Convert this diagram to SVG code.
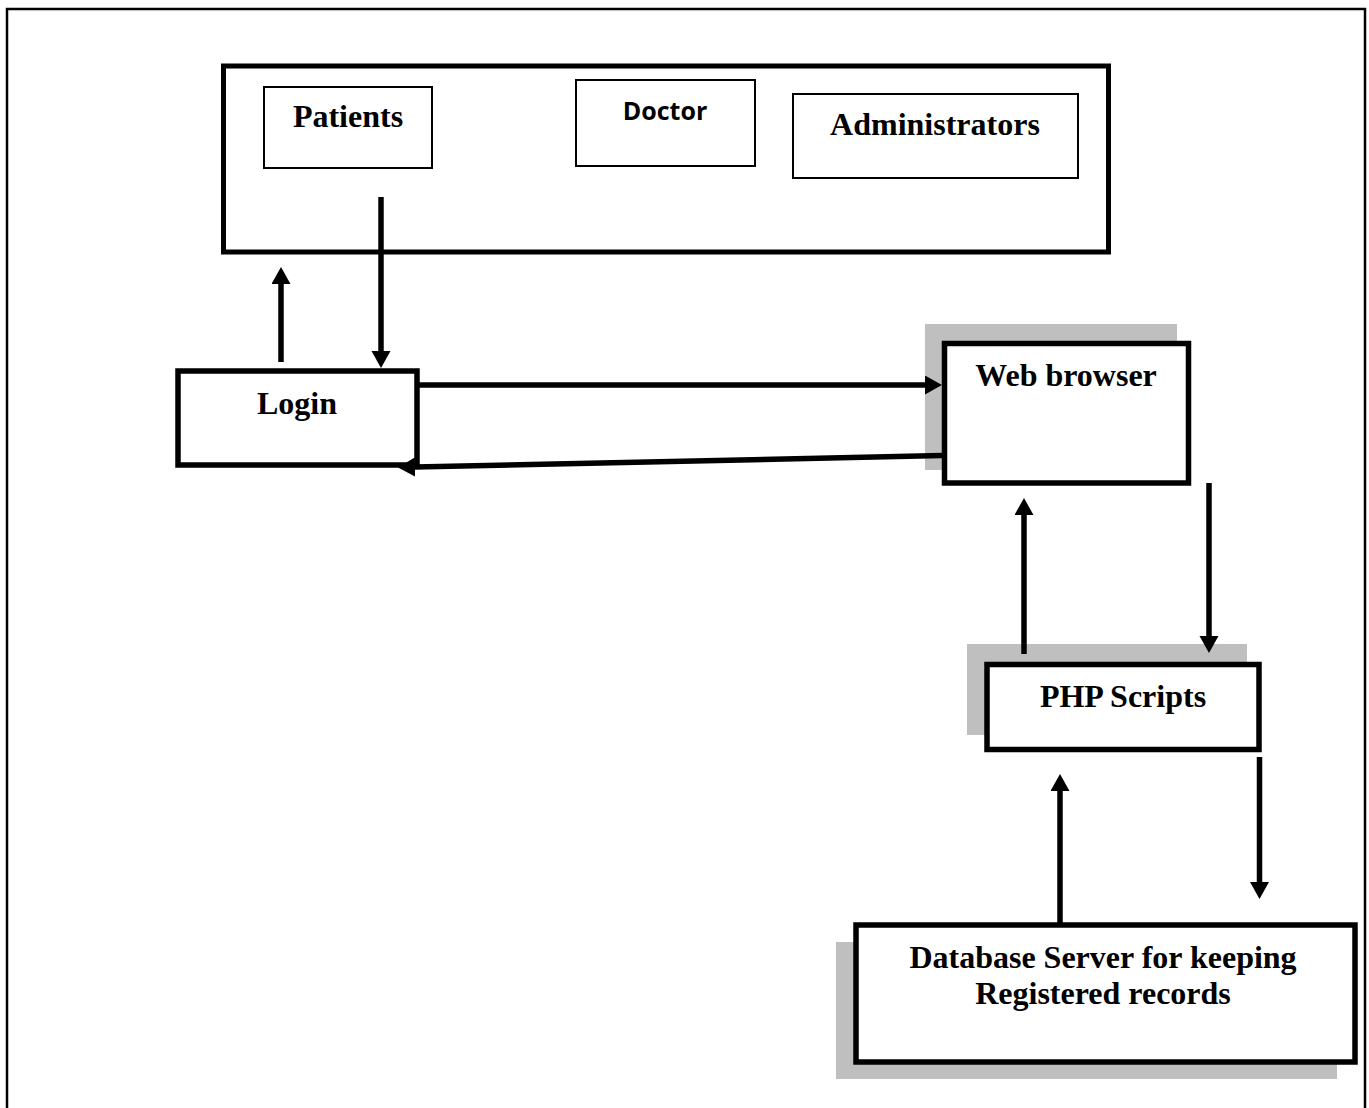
<svg xmlns="http://www.w3.org/2000/svg" width="1369" height="1108" viewBox="0 0 1369 1108">
<style>
.serif{font-family:"Liberation Serif","Times New Roman",serif;font-weight:bold;font-size:32px;fill:#000;text-anchor:middle}
.sans{font-family:"Open Sans","Noto Sans","Liberation Sans",sans-serif;font-weight:bold;font-size:25px;fill:#000;text-anchor:middle}
.thick{fill:#fff;stroke:#000;stroke-width:5.5}
.thin{fill:#fff;stroke:#000;stroke-width:2}
.shadow{fill:#bfbfbf;stroke:none}
.conn{fill:none;stroke:#000;stroke-width:5.5;marker-end:url(#ah)}
</style>
<defs>
<marker id="ah" markerUnits="userSpaceOnUse" markerWidth="18" markerHeight="20" refX="0" refY="9.5" orient="auto" viewBox="0 0 18 20">
<path d="M0,0 L17,9.5 L0,19 z" fill="#000"/>
</marker>
</defs>
<rect width="1369" height="1108" fill="#fff"/>
<path id="page-border" d="M7,1108 V9 H1365 V1108" fill="none" stroke="#000" stroke-width="2.5"/>

<g id="users">
<rect x="223.5" y="66" width="885" height="186" fill="#fff" stroke="#000" stroke-width="5"/>
</g>
<g id="patients">
<rect class="thin" x="264" y="87" width="168" height="81"/>
<text class="serif" x="348" y="127">Patients</text>
</g>
<g id="doctor">
<rect class="thin" x="576" y="80" width="179" height="86"/>
<text class="sans" x="665" y="120">Doctor</text>
</g>
<g id="administrators">
<rect class="thin" x="793" y="94" width="285" height="84"/>
<text class="serif" x="935" y="135">Administrators</text>
</g>
<g id="login">
<rect class="thick" x="178" y="371" width="239" height="94"/>
<text class="serif" x="297" y="414">Login</text>
</g>
<g id="web-browser">
<rect class="shadow" x="925" y="324" width="252" height="146"/>
<rect class="thick" x="944.5" y="343.5" width="244" height="139.5"/>
<text class="serif" x="1066" y="386">Web browser</text>
</g>
<g id="php-scripts">
<rect class="shadow" x="967" y="644" width="280" height="91"/>
<rect class="thick" x="987" y="664.5" width="272" height="85"/>
<text class="serif" x="1123" y="707">PHP Scripts</text>
</g>
<g id="database-server">
<rect class="shadow" x="836" y="942" width="501" height="137"/>
<rect class="thick" x="856" y="925" width="499" height="137"/>
<text class="serif" x="1103" y="968">Database Server for keeping</text>
<text class="serif" x="1103" y="1004">Registered records</text>
</g>

<g id="connectors">
<line class="conn" x1="281" y1="362" x2="281" y2="284"/>
<line class="conn" x1="381" y1="197" x2="381" y2="351"/>
<line class="conn" x1="418" y1="385" x2="925" y2="385"/>
<line class="conn" x1="942" y1="455.5" x2="415" y2="467.1"/>
<line class="conn" x1="1209" y1="483" x2="1209" y2="636"/>
<line class="conn" x1="1024" y1="654" x2="1024" y2="515"/>
<line class="conn" x1="1060" y1="925" x2="1060" y2="791"/>
<line class="conn" x1="1259.5" y1="757" x2="1259.5" y2="882"/>
</g>
</svg>
